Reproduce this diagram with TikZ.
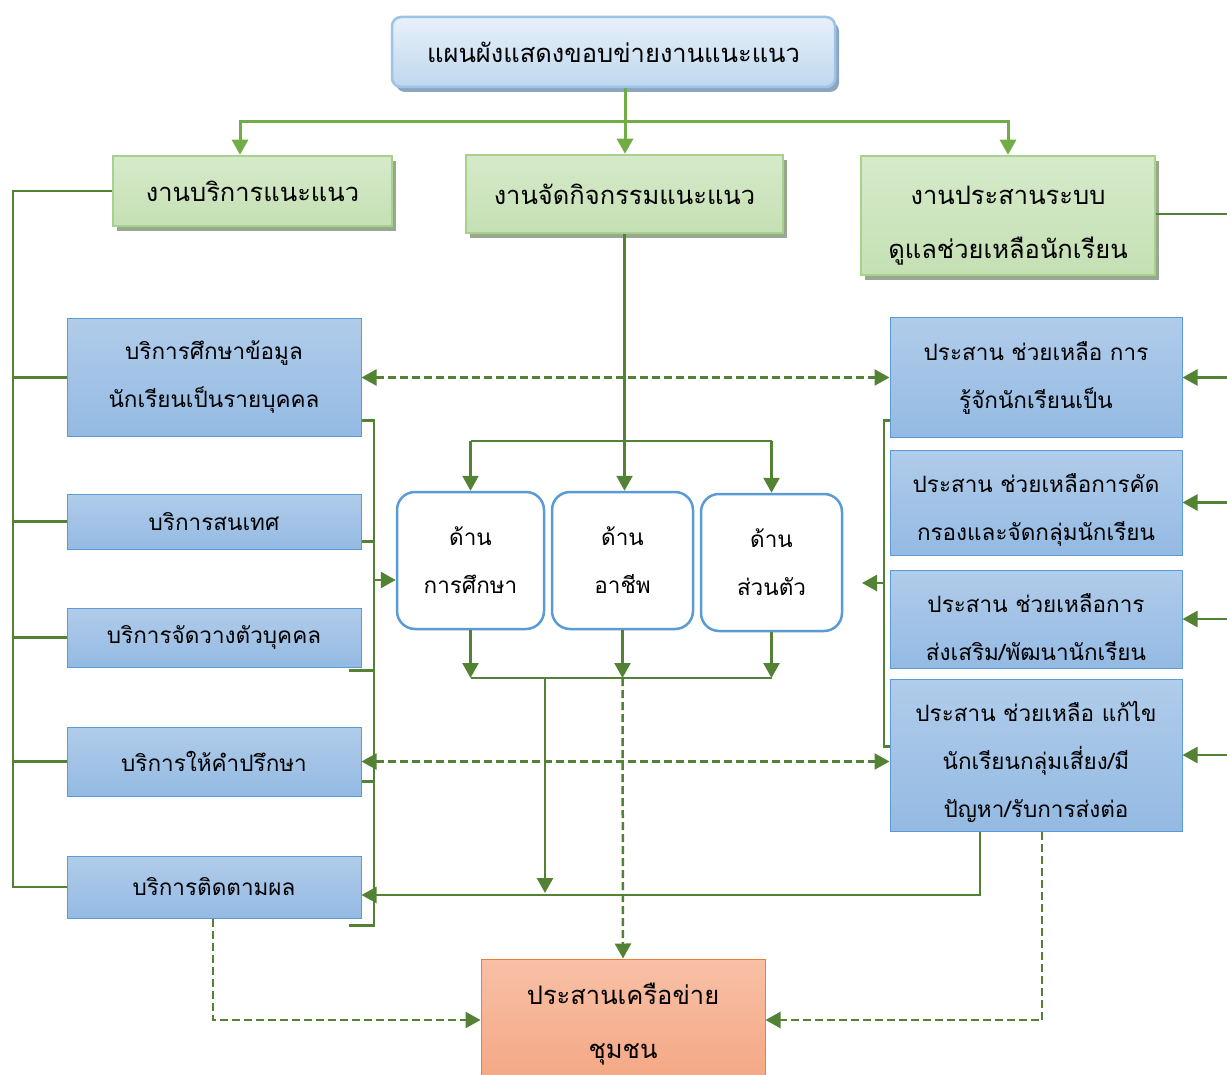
\documentclass[tikz,border=0pt]{standalone}
\usepackage{fontspec}
\newfontfamily\thaifont[Script=Thai]{Loma}
\usepackage{tikz}
\usetikzlibrary{arrows.meta, positioning, shadows}
\definecolor{linegreen}{RGB}{84,130,53}
\definecolor{topgreen}{RGB}{112,173,71}
\definecolor{gborder}{RGB}{169,209,142}
\definecolor{gtop}{RGB}{214,234,202}
\definecolor{gmid}{RGB}{238,246,234}
\definecolor{gbot}{RGB}{197,224,180}
\definecolor{gshadow}{RGB}{152,168,142}
\definecolor{bborder}{RGB}{91,155,213}
\definecolor{btop}{RGB}{176,204,234}
\definecolor{bbot}{RGB}{148,186,227}
\definecolor{ttop}{RGB}{232,241,250}
\definecolor{tbot}{RGB}{190,215,238}
\definecolor{tborder}{RGB}{157,195,230}
\definecolor{tshadow}{RGB}{140,166,192}
\definecolor{otop}{RGB}{248,192,166}
\definecolor{obot}{RGB}{244,166,130}
\definecolor{oborder}{RGB}{237,125,49}
\tikzset{>={Triangle[length=15pt,width=16pt]}}
\tikzset{
  txt/.style={align=center, inner sep=0pt, font=\thaifont\fontsize{22.5}{48}\selectfont},
  bigtxt/.style={align=center, inner sep=0pt, font=\thaifont\fontsize{25.5}{54}\selectfont},
  titlebox/.style={bigtxt, draw=tborder, line width=2.5pt, rounded corners=9pt,
    top color=ttop, bottom color=tbot,
    drop shadow={shadow xshift=4pt, shadow yshift=-5pt, fill=tshadow, opacity=1}},
  greenbox/.style={bigtxt, draw=gborder, line width=2.5pt,
    top color=gtop, middle color=gmid, bottom color=gbot,
    drop shadow={shadow xshift=4pt, shadow yshift=-5pt, fill=gshadow, opacity=1}},
  bluebox/.style={txt, draw=bborder, line width=1pt, top color=btop, bottom color=bbot,
    minimum width=294pt},
  roundbox/.style={txt, draw=bborder, line width=2.5pt, fill=white, rounded corners=18pt,
    minimum height=137pt},
  netbox/.style={bigtxt, draw=oborder, line width=1pt, top color=otop, bottom color=obot},
  topline/.style={draw=topgreen, line width=3pt},
  line/.style={draw=linegreen, line width=2.5pt},
  dashline/.style={dash pattern=on 8pt off 4pt}
}
\begin{document}
\begin{tikzpicture}[x=1pt, y=-1pt]
  \useasboundingbox (0,0) rectangle (1227,1075);

  \node (title) at (613.5,52) [titlebox, minimum width=443pt, minimum height=70pt] {แผนผังแสดงขอบข่ายงานแนะแนว};
  \node (g1) at (252.5,191) [greenbox, minimum width=279pt, minimum height=70pt] {งานบริการแนะแนว};
  \node (g2) at (624.5,194) [greenbox, minimum width=317pt, minimum height=78pt] {งานจัดกิจกรรมแนะแนว};
  \node (g3) at (1008,215.5) [greenbox, minimum width=294pt, minimum height=119pt, text height=103pt, text depth=16pt] {งานประสานระบบ\\ดูแลช่วยเหลือนักเรียน};

  \node (b1) at (214,377.5) [bluebox, minimum height=117pt] {บริการศึกษาข้อมูล\\นักเรียนเป็นรายบุคคล};
  \node (b2) at (214,521.5) [bluebox, minimum height=55pt] {บริการสนเทศ};
  \node (b3) at (214,637.5) [bluebox, minimum height=59pt] {บริการจัดวางตัวบุคคล};
  \node (b4) at (214,761.5) [bluebox, minimum height=69pt] {บริการให้คำปรึกษา};
  \node (b5) at (214,887) [bluebox, minimum height=62pt] {บริการติดตามผล};

  \node (r1) at (470.5,560.5) [roundbox, minimum width=147pt] {ด้าน\\การศึกษา};
  \node (r2) at (622.5,560.5) [roundbox, minimum width=141pt] {ด้าน\\อาชีพ};
  \node (r3) at (771.5,562.5) [roundbox, minimum width=141pt] {ด้าน\\ส่วนตัว};

  \node (c1) at (1036,377.5) [bluebox, minimum width=292pt, minimum height=119pt] {ประสาน ช่วยเหลือ การ\\รู้จักนักเรียนเป็น};
  \node (c2) at (1036,502.5) [bluebox, minimum width=292pt, minimum height=105pt, text height=90pt, text depth=15pt] {ประสาน ช่วยเหลือการคัด\\กรองและจัดกลุ่มนักเรียน};
  \node (c3) at (1036,619) [bluebox, minimum width=292pt, minimum height=98pt, text height=90pt, text depth=8pt] {ประสาน ช่วยเหลือการ\\ส่งเสริม/พัฒนานักเรียน};
  \node (c4) at (1036,755) [bluebox, minimum width=292pt, minimum height=152pt, text height=138pt, text depth=14pt] {ประสาน ช่วยเหลือ แก้ไข\\นักเรียนกลุ่มเสี่ยง/มี\\ปัญหา/รับการส่งต่อ};

  \node (net) at (623,1024) [netbox, minimum width=284pt, minimum height=130pt] {ประสานเครือข่าย\\ชุมชน};

  \coordinate (top) at (625,122);
  \draw [topline] (title.south -| top) -- (top);
  \draw [topline, ->] (top) -| ([xshift=-12.5pt]g1.north);
  \draw [topline, ->] (top) -- (top |- g2.north);
  \draw [topline, ->] (top) -| (g3.north);

  \coordinate (lrail) at (13,191);
  \draw [line] (g1.west) -- (lrail) |- (b5.west);
  \foreach \b in {b1,b2,b3,b4}
    \draw [line] (lrail |- \b.west) -- (\b.west);

  \coordinate (lbus) at (374,580);
  \draw [line] ([yshift=16pt]b1.south east) -| (lbus) |- ([xshift=-13pt,yshift=-7pt]b5.south east);
  \draw [line] ([yshift=8pt]b2.south east) -- +(13,0);
  \draw [line] ([xshift=-13pt,yshift=-3pt]b3.south east) -- +(26,0);
  \draw [line] ([yshift=15pt]b4.south east) -- +(13,0);
  \draw [line, ->] (lbus) -- (lbus -| r1.west);

  \coordinate (tbus) at (625,441);
  \draw [line, ->] (g2.south) -- (g2.south |- r2.north);
  \draw [line] (r1.north |- tbus) -- (r3.north |- tbus);
  \draw [line, ->] (r1.north |- tbus) -- (r1.north);
  \draw [line, ->] (r3.north |- tbus) -- (r3.north);

  \coordinate (bbus) at (545,678);
  \foreach \r in {r1,r2,r3}
    \draw [line, ->] (\r.south) -- (\r.south |- bbus);
  \draw [line] (r1.south |- bbus) -- (r3.south |- bbus);
  \draw [line, ->] (bbus) -- (545,893);
  \draw [line, dashline, ->] (r2.south |- bbus) -- (net.north);

  \coordinate (rbus) at (884,583);
  \draw [line] ([yshift=17pt]c1.south west) -| (rbus) |- ([yshift=-68pt]c4.north west);
  \draw [line, ->] (rbus) -- +(-22,0);

  \coordinate (rrail) at (1240,214);
  \draw [line] (g3.east |- rrail) -- (rrail) -- (rrail |- c4.east);
  \foreach \c in {c1,c2,c3,c4}
    \draw [line, ->] (rrail |- \c.east) -- (\c.east);

  \draw [line, dashline, <->] (b1) -- (c1);
  \draw [line, dashline, <->] (b4.east) -- (b4.east -| c4.west);
  \draw [line, ->] ([xshift=-56pt]c4.south) |- ([yshift=-8pt]b5.east);
  \draw [line, dashline, ->] ([xshift=6pt]c4.south) |- ([yshift=4pt]net.east);
  \draw [line, dashline, ->] ([xshift=-1pt]b5.south) |- ([yshift=4pt]net.west);
\end{tikzpicture}
\end{document}
